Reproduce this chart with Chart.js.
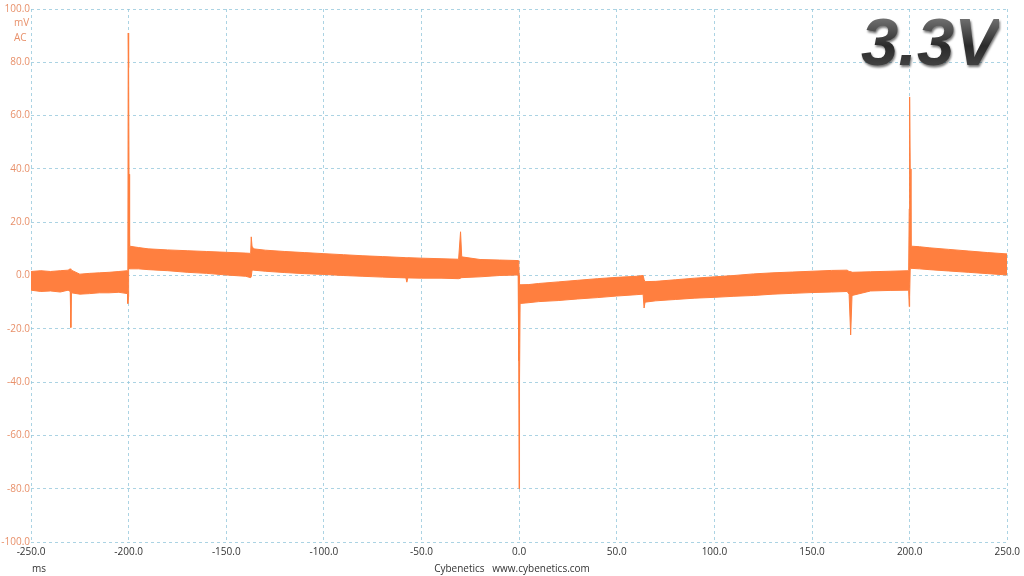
<!DOCTYPE html>
<html>
<head>
<meta charset="utf-8">
<script src="https://cdn.jsdelivr.net/npm/chart.js@4.4.0/dist/chart.umd.min.js"></script>
<style>
  html,body{margin:0;padding:0;background:#fff;}
  #wrap{position:relative;width:1024px;height:576px;}
  .lbl{position:absolute;font-family:"Open Sans",sans-serif;font-size:10px;}
  #big{position:absolute;left:861px;top:2px;font-family:"Liberation Sans",Arial,sans-serif;font-weight:bold;font-style:italic;font-size:67px;line-height:80px;
       background:linear-gradient(#9a9a9a,#2a2a2a 55%,#555);-webkit-background-clip:text;background-clip:text;color:transparent;
       filter:drop-shadow(1px 2px 1px rgba(0,0,0,0.55));}
</style>
</head>
<body>
<div id="wrap">
  <canvas id="c" width="1024" height="576"></canvas>
  <div class="lbl" style="left:14px;top:15px;color:#E8906A;">mV</div>
  <div class="lbl" style="left:14px;top:30px;color:#E8906A;">AC</div>
  <div class="lbl" style="left:32px;top:561px;color:#333;">ms</div>
  <div class="lbl" style="left:0;width:1024px;text-align:center;top:561px;color:#333;">Cybenetics&nbsp;&nbsp;&nbsp;www.cybenetics.com</div>
  <div id="big">3.3V</div>
</div>
<script>
// time (ms)
const timeMs = [-250,-245,-240,-235,-231,-229.9,-229.6,-229.3,-225,-220,-215,-210,-205,-200.6,-200.4,-200.2,-200.0,-199.8,-199.5,
  -195,-190,-180,-170,-160,-150,-140,-137.5,-137.2,-136.8,-136,-130,-120,-110,-100,-90,-80,-70,-58,-57.5,-57,-50,-40,-31,-30,-29.4,-20,-10,
  -0.5,-0.2,0,0.2,0.5,5,10,20,30,40,50,60,63.5,64,64.5,70,80,90,100,110,120,130,140,150,160,168,169,169.8,170.5,180,190,
  199.5,199.8,200,200.3,200.7,205,210,220,230,240,250];
// upper edge of the ripple band (mV)
const upperMv = [1.5,1.8,1.5,1.8,2.0,2.5,2.0,2.0,0.5,0.8,1.0,1.2,1.5,1.8,2,91,78,38,11,
  10.5,10,9.6,9.3,9.0,8.7,8.4,8.3,14.5,11,10,9.5,9.0,8.6,8.2,7.8,7.4,7.1,6.7,6.7,6.7,6.5,6.3,6.1,16.4,7,6,5.8,
  5.6,5,0,-3,-3.5,-3.4,-3.0,-2.4,-1.8,-1.2,-0.7,-0.3,0,-1.5,-2.3,-2.2,-1.6,-1.0,-0.5,0,0.6,1,1.3,1.6,1.9,2.0,1.5,1.5,1.2,1.4,1.6,
  1.8,25,67,40,11,10.8,10.4,9.8,9.2,8.6,8.1];
// lower edge of the ripple band (mV)
const lowerMv = [-5.5,-6,-5.8,-6.2,-5.5,-6,-19.5,-6.5,-7,-6.8,-6.5,-6.5,-6.3,-6.8,-10.5,-8,2,3,2.5,
  2.5,2.2,1.8,1.2,0.8,0.2,-0.3,-0.8,-0.5,2,2,1.6,1.1,0.7,0.4,0,-0.3,-0.6,-0.9,-2.5,-0.9,-1,-1,-1.2,-1,-0.8,-0.5,0,
  0.2,-32,-80,-40,-10.5,-10.2,-9.8,-9.4,-8.8,-8.3,-7.7,-7.2,-7,-12.2,-10,-9.5,-9,-8.5,-8.2,-7.8,-7.5,-7,-6.7,-6.4,-6.2,-6,-7,-22.3,-7.5,-5.8,-5.6,
  -5.5,-11.7,-8,2.5,2.7,2.5,2.2,1.7,1.2,0.7,0.2];

const orange = 'rgb(255,127,63)';
const upperPts = timeMs.map((t,i)=>({x:t,y:upperMv[i]}));
const lowerPts = timeMs.map((t,i)=>({x:t,y:lowerMv[i]}));

const grid = {color:'rgba(150,200,220,0.8)', lineWidth:1, drawTicks:false, tickLength:0};
new Chart(document.getElementById('c'), {
  type:'line',
  data:{datasets:[
    {data:upperPts, borderColor:orange, backgroundColor:orange, borderWidth:1, pointRadius:0, tension:0, fill:'+1'},
    {data:lowerPts, borderColor:orange, backgroundColor:orange, borderWidth:1, pointRadius:0, tension:0, fill:false}
  ]},
  options:{
    responsive:false, animation:false, events:[],
    layout:{padding:{top:9,right:14,left:0,bottom:0}},
    plugins:{legend:{display:false}, tooltip:{enabled:false}},
    scales:{
      x:{type:'linear', min:-250, max:250,
         grid:grid, border:{display:false, dash:[3,3]},
         ticks:{stepSize:50, color:'#333', font:{family:'Open Sans', size:10}, padding:4, maxRotation:0,
                callback:v=>v.toFixed(1)},
         afterFit:s=>{s.height=34;}},
      y:{min:-100, max:100,
         grid:grid, border:{display:false, dash:[3,3]},
         ticks:{stepSize:20, color:'#E8906A', font:{family:'Open Sans', size:10}, padding:1,
                callback:v=>v.toFixed(1)},
         afterFit:s=>{s.width=31;}}
    }
  }
});
</script>
</body>
</html>
